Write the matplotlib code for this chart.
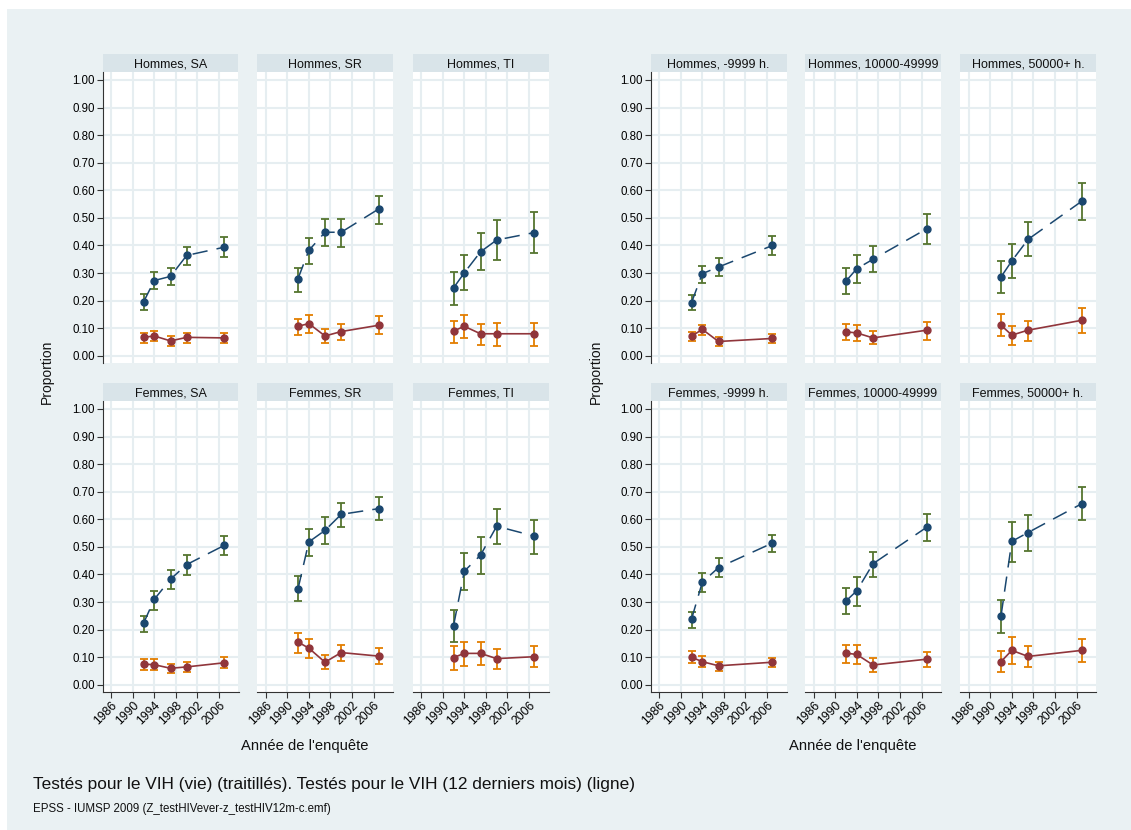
import matplotlib
matplotlib.use('Agg')
import matplotlib.pyplot as plt
from matplotlib.patches import Rectangle

plt.rcParams['font.family'] = ['Liberation Sans', 'DejaVu Sans']

# years of the surveys
years5 = [1992, 1994, 1997, 2000, 2007]
years4 = [1992, 1994, 1997, 2007]

# each series: [estimate, lower CI, upper CI]
# ever tested (dashed) / tested in last 12 months (solid)
h_sa_ever = [[0.195, 0.273, 0.288, 0.364, 0.394],
             [0.167, 0.242, 0.255, 0.328, 0.358],
             [0.223, 0.304, 0.319, 0.396, 0.429]]
h_sa_12m = [[0.067, 0.072, 0.054, 0.067, 0.065],
            [0.047, 0.053, 0.036, 0.048, 0.045],
            [0.084, 0.090, 0.072, 0.084, 0.083]]

h_sr_ever = [[0.280, 0.382, 0.448, 0.448, 0.533],
             [0.231, 0.334, 0.398, 0.394, 0.478],
             [0.319, 0.428, 0.495, 0.495, 0.581]]
h_sr_12m = [[0.107, 0.117, 0.072, 0.088, 0.111],
            [0.075, 0.084, 0.045, 0.057, 0.078],
            [0.135, 0.148, 0.099, 0.114, 0.145]]

h_ti_ever = [[0.246, 0.301, 0.377, 0.420, 0.447],
             [0.183, 0.237, 0.310, 0.346, 0.372],
             [0.304, 0.366, 0.445, 0.494, 0.523]]
h_ti_12m = [[0.090, 0.107, 0.080, 0.080, 0.080],
            [0.048, 0.063, 0.041, 0.037, 0.035],
            [0.128, 0.148, 0.116, 0.120, 0.120]]

f_sa_ever = [[0.223, 0.310, 0.383, 0.436, 0.506],
             [0.190, 0.273, 0.349, 0.398, 0.471],
             [0.248, 0.341, 0.418, 0.471, 0.540]]
f_sa_12m = [[0.075, 0.073, 0.060, 0.065, 0.080],
            [0.054, 0.053, 0.042, 0.047, 0.060],
            [0.095, 0.094, 0.077, 0.083, 0.100]]

f_sr_ever = [[0.348, 0.518, 0.560, 0.618, 0.639],
             [0.304, 0.467, 0.512, 0.572, 0.596],
             [0.395, 0.565, 0.610, 0.660, 0.682]]
f_sr_12m = [[0.155, 0.133, 0.082, 0.117, 0.104],
            [0.114, 0.098, 0.057, 0.087, 0.076],
            [0.188, 0.166, 0.108, 0.145, 0.134]]

f_ti_ever = [[0.214, 0.412, 0.470, 0.575, 0.539],
             [0.157, 0.343, 0.401, 0.510, 0.475],
             [0.271, 0.477, 0.536, 0.637, 0.599]]
f_ti_12m = [[0.099, 0.114, 0.114, 0.095, 0.102],
            [0.054, 0.070, 0.072, 0.057, 0.064],
            [0.139, 0.157, 0.157, 0.131, 0.139]]

h_small_ever = [[0.193, 0.298, 0.322, 0.400],
                [0.165, 0.265, 0.288, 0.364],
                [0.220, 0.327, 0.355, 0.434]]
h_small_12m = [[0.071, 0.096, 0.052, 0.063],
               [0.052, 0.075, 0.036, 0.045],
               [0.087, 0.113, 0.069, 0.080]]

h_mid_ever = [[0.271, 0.316, 0.350, 0.461],
              [0.223, 0.265, 0.303, 0.404],
              [0.317, 0.364, 0.397, 0.515]]
h_mid_12m = [[0.087, 0.083, 0.065, 0.093],
             [0.057, 0.053, 0.042, 0.059],
             [0.116, 0.112, 0.089, 0.121]]

h_big_ever = [[0.286, 0.344, 0.422, 0.561],
              [0.228, 0.282, 0.362, 0.491],
              [0.344, 0.404, 0.485, 0.628]]
h_big_12m = [[0.111, 0.075, 0.093, 0.129],
             [0.071, 0.039, 0.053, 0.083],
             [0.151, 0.107, 0.125, 0.175]]

f_small_ever = [[0.238, 0.372, 0.425, 0.514],
                [0.206, 0.338, 0.390, 0.480],
                [0.265, 0.404, 0.458, 0.545]]
f_small_12m = [[0.100, 0.084, 0.069, 0.082],
               [0.080, 0.065, 0.049, 0.064],
               [0.121, 0.105, 0.084, 0.099]]

f_mid_ever = [[0.304, 0.341, 0.439, 0.572],
              [0.256, 0.287, 0.390, 0.521],
              [0.352, 0.392, 0.483, 0.619]]
f_mid_12m = [[0.115, 0.110, 0.072, 0.093],
             [0.080, 0.075, 0.047, 0.065],
             [0.146, 0.144, 0.097, 0.119]]

f_big_ever = [[0.250, 0.520, 0.552, 0.657],
              [0.187, 0.446, 0.486, 0.597],
              [0.308, 0.591, 0.616, 0.718]]
f_big_12m = [[0.084, 0.125, 0.103, 0.125],
             [0.046, 0.076, 0.063, 0.082],
             [0.124, 0.172, 0.142, 0.167]]

left_titles = [['Hommes, SA', 'Hommes, SR', 'Hommes, TI'],
               ['Femmes, SA', 'Femmes, SR', 'Femmes, TI']]
right_titles = [['Hommes, -9999 h.', 'Hommes, 10000-49999', 'Hommes, 50000+ h.'],
                ['Femmes, -9999 h.', 'Femmes, 10000-49999', 'Femmes, 50000+ h.']]

left_data = [[(h_sa_ever, h_sa_12m), (h_sr_ever, h_sr_12m), (h_ti_ever, h_ti_12m)],
             [(f_sa_ever, f_sa_12m), (f_sr_ever, f_sr_12m), (f_ti_ever, f_ti_12m)]]
right_data = [[(h_small_ever, h_small_12m), (h_mid_ever, h_mid_12m), (h_big_ever, h_big_12m)],
              [(f_small_ever, f_small_12m), (f_mid_ever, f_mid_12m), (f_big_ever, f_big_12m)]]

x_ticks = [1986, 1990, 1994, 1998, 2002, 2006]
y_ticks = [i / 10 for i in range(11)]

# colours (Stata s2color look)
BG = '#eaf1f3'
STRIP = '#d9e4e9'
GRID = '#e6eef1'
NAVY = '#1a476f'
MAROON = '#90353b'
GREEN = '#55752f'
ORANGE = '#e37e00'

W, H = 1131, 830

fig = plt.figure(figsize=(W / 100, H / 100), dpi=100)
fig.patch.set_facecolor('white')
fig.patches.append(Rectangle((7 / W, 0), 1, (H - 9) / H, transform=fig.transFigure,
                             facecolor=BG, edgecolor='none', zorder=-10))


def px_axes(x0, y0, x1, y1):
    return fig.add_axes([x0 / W, 1 - y1 / H, (x1 - x0) / W, (y1 - y0) / H])


def draw_panel(ax, years, ever, m12, first_col, bottom_row):
    ax.set_facecolor('white')
    ax.set_xlim(1984.4, 2009.6)
    ax.set_ylim(-0.026, 1.029)
    ax.set_xticks(x_ticks)
    ax.set_yticks(y_ticks)
    ax.grid(True, color=GRID, lw=1.5, zorder=0)
    ax.set_axisbelow(True)
    for s in ['top', 'right']:
        ax.spines[s].set_visible(False)
    ax.spines['left'].set_visible(first_col)
    ax.spines['bottom'].set_visible(bottom_row)
    ax.spines['left'].set_color('#333333')
    ax.spines['bottom'].set_color('#333333')

    ax.tick_params(axis='y', left=first_col, labelleft=first_col, labelsize=8.3,
                   length=4, color='#333333', pad=1.5)
    ax.set_yticklabels(['%.2f' % v for v in y_ticks])
    ax.tick_params(axis='x', bottom=bottom_row, labelbottom=bottom_row, labelsize=8.8,
                   length=4, color='#333333', pad=1.5)
    if bottom_row:
        ax.set_xticklabels([str(t) for t in x_ticks], rotation=45, ha='right',
                           va='top', rotation_mode='anchor')

    # confidence intervals
    ax.errorbar(years, ever[0], yerr=[[e - l for e, l in zip(ever[0], ever[1])],
                                      [h - e for e, h in zip(ever[0], ever[2])]],
                fmt='none', ecolor=GREEN, elinewidth=1.3, capsize=3, capthick=1.3, zorder=2)
    ax.errorbar(years, m12[0], yerr=[[e - l for e, l in zip(m12[0], m12[1])],
                                     [h - e for e, h in zip(m12[0], m12[2])]],
                fmt='none', ecolor=ORANGE, elinewidth=1.3, capsize=3, capthick=1.3, zorder=2)
    # estimates
    ax.plot(years, ever[0], color=NAVY, lw=1.1, ls=(0, (10, 6)), marker='o',
            markersize=5, markerfacecolor=NAVY, markeredgecolor=NAVY, zorder=3)
    ax.plot(years, m12[0], color=MAROON, lw=1.2, ls='-', marker='o',
            markersize=5, markerfacecolor=MAROON, markeredgecolor=MAROON, zorder=3)


def draw_strip(x0, y0, x1, y1, title):
    sax = px_axes(x0, y0, x1, y1)
    sax.set_facecolor(STRIP)
    sax.set_xticks([])
    sax.set_yticks([])
    for s in sax.spines.values():
        s.set_visible(False)
    sax.text(0.5, 0.45, title, ha='center', va='center', fontsize=9,
             color='#111111', transform=sax.transAxes, clip_on=True)


col_left = [[102.5, 257.0, 412.5], [650.5, 805.0, 960.0]]
col_w = 136
row_top = [72, 401]
row_h = 291
strip_h = 17.5

for g, (titles, data) in enumerate([(left_titles, left_data), (right_titles, right_data)]):
    for r in range(2):
        for c in range(3):
            x0 = col_left[g][c]
            y0 = row_top[r]
            draw_strip(x0, y0 - strip_h, x0 + col_w, y0, titles[r][c])
            ax = px_axes(x0, y0, x0 + col_w, y0 + row_h)
            ever, m12 = data[r][c]
            years = years5 if g == 0 else years4
            draw_panel(ax, years, ever, m12, c == 0, r == 1)

# shared axis titles
for xp in [47, 596]:
    fig.text(xp / W, 1 - 372 / H, 'Proportion', rotation=90, ha='center', va='center',
             fontsize=10, color='#111111')
for xp in [305, 853]:
    fig.text(xp / W, 1 - 746 / H, "Année de l'enquête", ha='center', va='center',
             fontsize=10.6, color='#111111')

fig.text(33 / W, 1 - 784 / H,
         'Testés pour le VIH (vie) (traitillés). Testés pour le VIH (12 derniers mois) (ligne)',
         ha='left', va='center', fontsize=12.4, color='#111111')
fig.text(33 / W, 1 - 809 / H, 'EPSS - IUMSP 2009 (Z_testHIVever-z_testHIV12m-c.emf)',
         ha='left', va='center', fontsize=8.3, color='#111111')

fig.savefig('out.png', dpi=100, facecolor=fig.get_facecolor())
